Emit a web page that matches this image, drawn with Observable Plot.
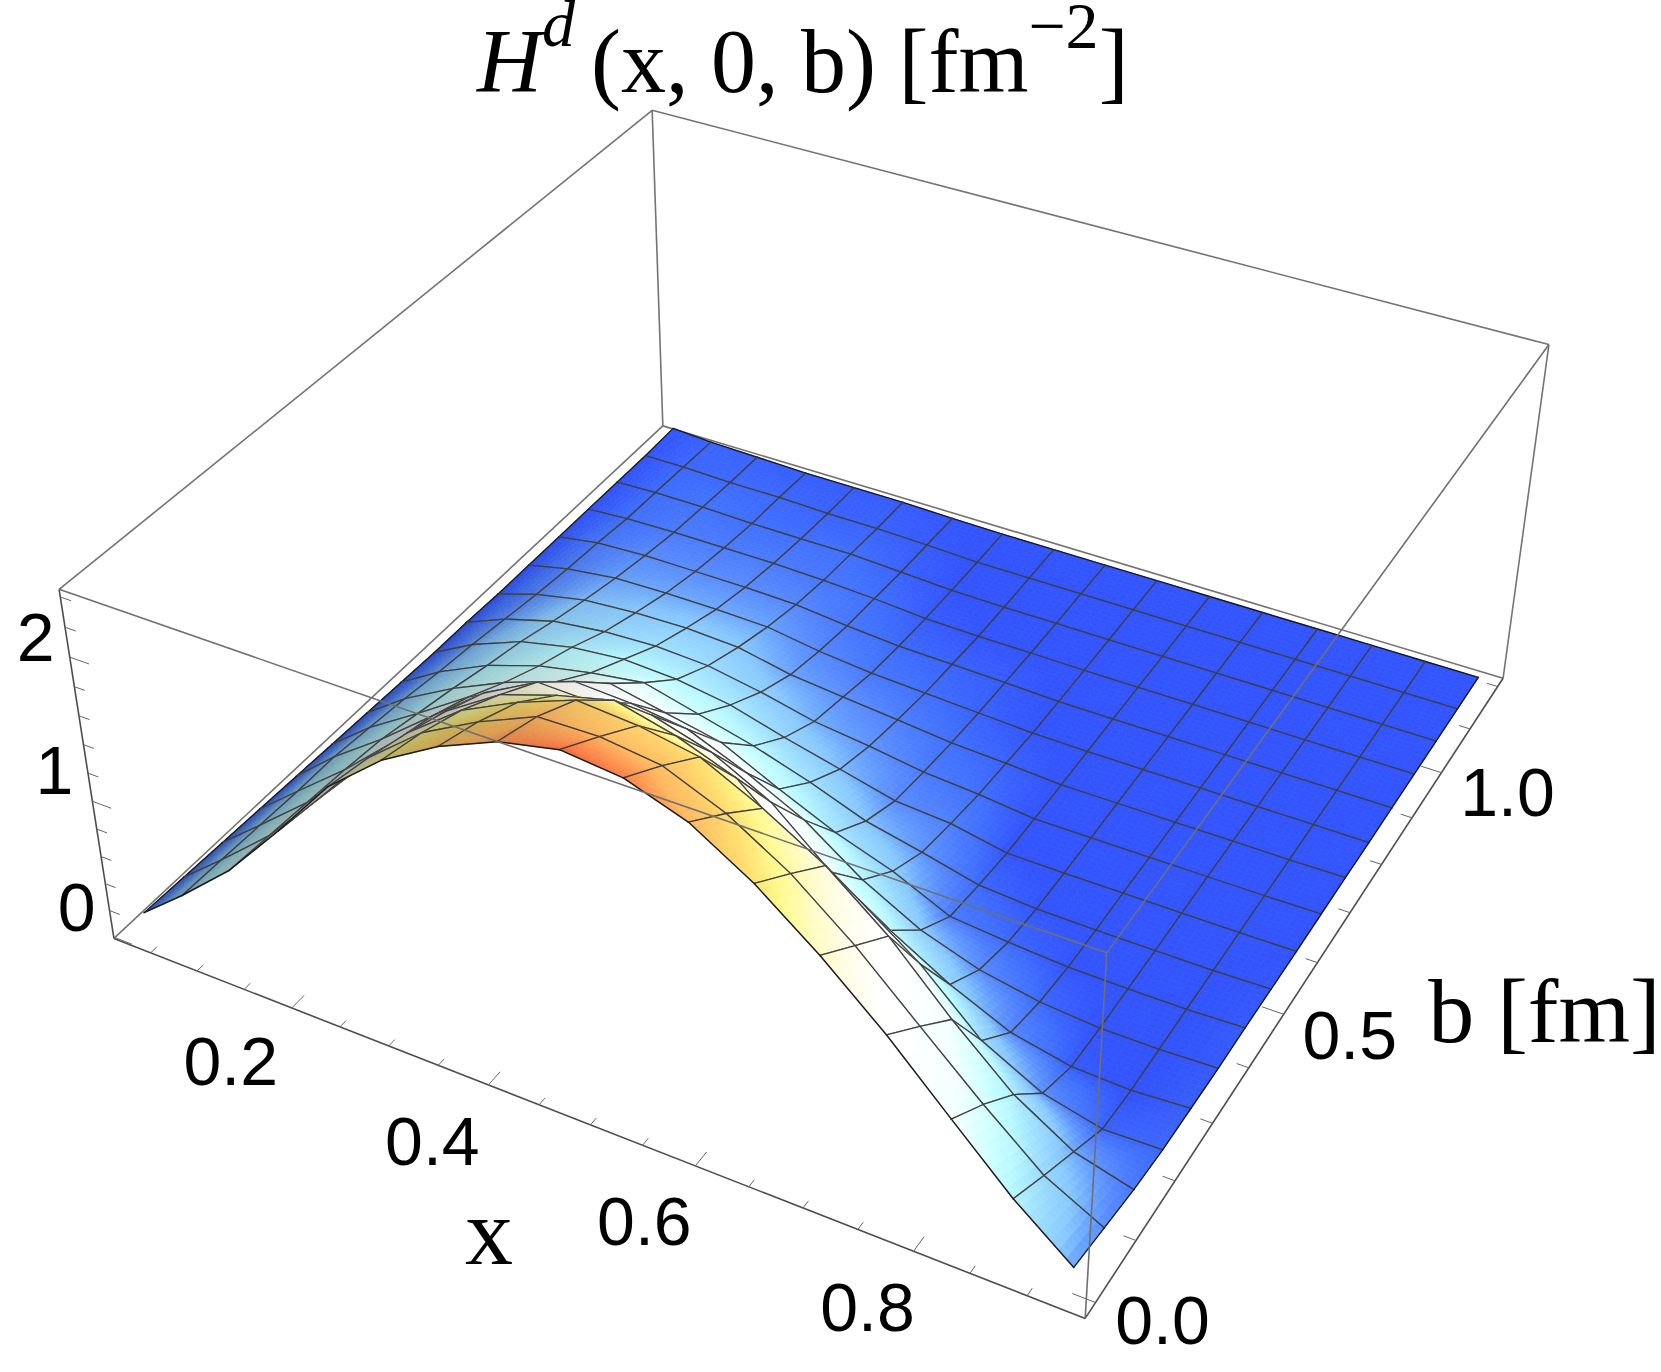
<!DOCTYPE html>
<html>
<head>
<meta charset="utf-8">
<script src="https://cdn.jsdelivr.net/npm/d3@7"></script>
<script src="https://cdn.jsdelivr.net/npm/@observablehq/plot@0.6"></script>
<style>
html,body{margin:0;padding:0;background:#fff;width:1661px;height:1372px;overflow:hidden}
#title{position:absolute;left:477px;top:8px;height:100px;font:90px/108px "Liberation Serif",serif;color:#000;white-space:nowrap;z-index:2}
#title sup{font-size:66px;line-height:0;vertical-align:baseline;position:relative;top:-44px}
#title sup.d{margin-right:16px;top:-46px}
#chart{position:absolute;left:0;top:100px}
</style>
</head>
<body>
<div id="title"><i>H</i><sup class="d"><i>d</i></sup>(x, 0, b) [fm<sup>−2</sup>]</div>
<div id="chart"></div>
<script>
// Grid of the surface
const xGrid = [0.032,0.078,0.134,0.192,0.249,0.306,0.363,0.420,0.478,0.535,0.592,0.649,0.706,0.764,0.821,0.876,0.930];
const bGrid = [0,0.075,0.15,0.225,0.3,0.375,0.45,0.525,0.6,0.675,0.75,0.825,0.9,0.975,1.05,1.125,1.2];

// H values along b, one list per x of the grid
const zX00 = [.15,.14,.13,.12,.11,.10,.09,.08,.07,.07,.06,.06,.06,.06,.06,.06,.07];
const zX01 = [.40,.39,.38,.37,.37,.34,.31,.27,.24,.20,.16,.13,.11,.08,.07,.06,.05];
const zX02 = [.73,.71,.69,.67,.64,.58,.52,.45,.39,.31,.24,.18,.13,.09,.07,.05,.04];
const zX03 = [1.16,1.12,1.07,1.02,.95,.84,.70,.58,.48,.36,.27,.19,.13,.09,.06,.05,.03];
const zX04 = [1.61,1.55,1.47,1.37,1.25,1.04,.84,.66,.52,.38,.28,.19,.13,.09,.06,.04,.03];
const zX05 = [1.93,1.86,1.76,1.62,1.46,1.22,.96,.72,.50,.36,.26,.18,.12,.08,.06,.04,.03];
const zX06 = [2.16,2.07,1.95,1.75,1.45,1.20,.88,.62,.44,.29,.18,.12,.08,.06,.04,.03,.02];
const zX07 = [2.33,2.24,2.10,1.85,1.50,1.15,.80,.52,.33,.20,.14,.08,.05,.03,.02,.015,.015];
const zX08 = [2.42,2.25,2.07,1.75,1.38,.98,.60,.39,.23,.15,.10,.06,.04,.02,.015,.015,.015];
const zX09 = [2.38,2.20,2.00,1.60,1.17,.78,.42,.24,.13,.09,.06,.04,.03,.02,.015,.015,.015];
const zX10 = [2.24,2.03,1.80,1.25,.82,.49,.28,.15,.10,.06,.04,.02,.015,.015,.015,.015,.015];
const zX11 = [1.99,1.78,1.56,1.05,.55,.27,.09,.05,.02,.015,.015,.015,.015,.015,.015,.015,.015];
const zX12 = [1.67,1.45,1.23,.75,.31,.13,.05,.02,.015,.015,.015,.015,.015,.015,.015,.015,.015];
const zX13 = [1.30,1.06,.81,.36,.12,.05,.02,.015,.015,.015,.015,.015,.015,.015,.015,.015,.015];
const zX14 = [.89,.68,.44,.14,.03,.015,.015,.015,.015,.015,.015,.015,.015,.015,.015,.015,.015];
const zX15 = [.50,.34,.19,.04,.015,.015,.015,.015,.015,.015,.015,.015,.015,.015,.015,.015,.015];
const zX16 = [.18,.13,.08,.05,.04,.03,.03,.025,.02,.02,.02,.015,.015,.015,.015,.015,.015];
const zGrid = [zX00,zX01,zX02,zX03,zX04,zX05,zX06,zX07,zX08,zX09,zX10,zX11,zX12,zX13,zX14,zX15,zX16];

// Colour function of H; the first two x columns read darker than their height gives
const colorStopsZ = [0.02,0.06,0.13,0.155,0.25,0.38,0.51,0.65,0.85,1.15,1.3,1.5,1.67,1.85,2.0,2.24,2.38,2.42];
const colorStops  = ["#3355ff","#4070ff","#5a8cff","#6098ff","#88c8ff","#a0e0ff","#b8f8ff","#d0ffff","#f3ffff","#ffffff","#ffffff","#fffde8","#fffcc8","#fffa90","#ffe070","#ffb860","#ff8048","#ff6838"];
const colorOf = d3.scaleLinear().domain(colorStopsZ).range(colorStops).interpolate(d3.interpolateRgb).clamp(true);
const colorWeight = [0.3,0.8];

// Axis ranges and ticks
const xRange = [0.01,0.95], bRange = [-0.025,1.22], zRange = [-0.01,2.45];
const xTicks = d3.range(0.05,0.951,0.05), xMajor = [0.2,0.4,0.6,0.8];
const bTicks = d3.range(0,1.21,0.1),  bMajor = [0,0.5,1];
const zTicks = d3.range(0,2.41,0.2), zMajor = [0,1,2];

const xLabels = [["0.2",-61,55],["0.4",-56,58],["0.6",-51,57],["0.8",-46,58]];
const bLabels = [["0.0",67,20],["0.5",66,23],["1.0",66,22]];
const zLabels = [["0",-37,-28],["1",-38,-29],["2",-34,-18]];

// Camera: pixel places of the eight corners of the box (x,b,z index 0/1)
const corners = [
  [0,0,0,113,938],[1,0,0,1085,1318],[1,1,0,1502,678],[0,1,0,663,425],
  [0,0,1,59,589],[1,0,1,1106,952],[1,1,1,1549,344],[0,1,1,651,110]
];
function solve(A,y){
  const n=y.length; A=A.map((r,i)=>[...r,y[i]]);
  for(let c=0;c<n;c++){
    let p=c; for(let r=c+1;r<n;r++) if(Math.abs(A[r][c])>Math.abs(A[p][c])) p=r;
    [A[c],A[p]]=[A[p],A[c]];
    for(let r=0;r<n;r++) if(r!==c){const f=A[r][c]/A[c][c]; for(let k=c;k<=n;k++) A[r][k]-=f*A[c][k];}
  }
  return A.map((r,i)=>r[n]/r[i]);
}
const M = (()=>{
  const rows=[],ys=[];
  for(const [u,v,w,px,py] of corners){
    rows.push([u,v,w,1,0,0,0,0,-px*u,-px*v,-px*w]); ys.push(px);
    rows.push([0,0,0,0,u,v,w,1,-py*u,-py*v,-py*w]); ys.push(py);
  }
  const AtA=d3.range(11).map(a=>d3.range(11).map(b=>d3.sum(rows,r=>r[a]*r[b])));
  const Aty=d3.range(11).map(a=>d3.sum(rows,(r,i)=>r[a]*ys[i]));
  return solve(AtA,Aty);
})();
function project(x,b,z){
  const u=(x-xRange[0])/(xRange[1]-xRange[0]), v=(b-bRange[0])/(bRange[1]-bRange[0]), w=(z-zRange[0])/(zRange[1]-zRange[0]);
  const d=M[8]*u+M[9]*v+M[10]*w+1;
  return [(M[0]*u+M[1]*v+M[2]*w+M[3])/d,(M[4]*u+M[5]*v+M[6]*w+M[7])/d];
}

// Slope towards +x at each grid node gives the shading of the left flank
const nx=xGrid.length, nb=bGrid.length;
const shade = d3.range(nx).map(i=>d3.range(nb).map(j=>{
  const a=Math.max(i-1,0), c=Math.min(i+1,nx-1);
  const s=(zGrid[c][j]-zGrid[a][j])/(xGrid[c]-xGrid[a]);
  return 1/(1+0.07*Math.max(s,0));
}));

// Painter's list, far cells first: filled patches then their mesh edges
const SUB=8;
const poly=[]; let id=0;
const lerp2=(f,i,j,s,t)=>(1-s)*(1-t)*f(i,j)+s*(1-t)*f(i+1,j)+(1-s)*t*f(i,j+1)+s*t*f(i+1,j+1);
const zAt=(i,j)=>zGrid[i][j], shAt=(i,j)=>shade[i][j], cAt=(i,j)=>zGrid[i][j]*(colorWeight[i]??1);
function vertex(i,j,s,t){
  const x=xGrid[i]+s*(xGrid[i+1]-xGrid[i]), b=bGrid[j]+t*(bGrid[j+1]-bGrid[j]);
  const z=lerp2(zAt,i,j,s,t);
  return {x,b,z,sh:lerp2(shAt,i,j,s,t),cz:lerp2(cAt,i,j,s,t)};
}
function pushPath(pts,fill,stroke,sw){
  const k=id++;
  for(const p of pts){const [px,py]=project(p.x,p.b,p.z); poly.push({k,px,py,fill,stroke,sw});}
}
for(let j=nb-2;j>=0;j--){
  for(let i=0;i<nx-1;i++){
    for(let q=SUB-1;q>=0;q--) for(let p=0;p<SUB;p++){
      const s0=p/SUB,s1=(p+1)/SUB,t0=q/SUB,t1=(q+1)/SUB;
      const v=[vertex(i,j,s0,t0),vertex(i,j,s1,t0),vertex(i,j,s1,t1),vertex(i,j,s0,t1)];
      const mz=d3.mean(v,d=>d.cz), ms=d3.mean(v,d=>d.sh);
      const c=d3.rgb(colorOf(mz));
      const col=d3.rgb(c.r*ms,c.g*ms,c.b*ms).formatHex();
      pushPath([...v,v[0]],col,col,0.7);
    }
    const p00=vertex(i,j,0,0),p10=vertex(i,j,1,0),p01=vertex(i,j,0,1),p11=vertex(i,j,1,1);
    const mesh="#3f3f3f", edge="#1a1a1a";
    pushPath([p01,p11],"none",j+1===nb-1?edge:mesh,j+1===nb-1?1.4:1.3);
    pushPath([p00,p01],"none",i===0?edge:mesh,i===0?1.3:1.3);
    pushPath([p10,p11],"none",i+1===nx-1?edge:mesh,i+1===nx-1?1.4:1.3);
    pushPath([p00,p10],"none",j===0?edge:mesh,j===0?1.5:1.3);
  }
}

// Box edges
const [x0,x1]=xRange,[b0,b1]=bRange,[z0,z1]=zRange;
const boxLine=(a,c)=>({p:project(...a),q:project(...c)});
const backEdges=[
  boxLine([x0,b0,z1],[x0,b1,z1]),boxLine([x0,b1,z1],[x1,b1,z1]),boxLine([x1,b1,z1],[x1,b1,z0]),
  boxLine([x0,b1,z1],[x0,b1,z0]),boxLine([x0,b0,z0],[x0,b1,z0]),boxLine([x0,b1,z0],[x1,b1,z0])
];
const axisEdges=[
  boxLine([x0,b0,z0],[x1,b0,z0]),boxLine([x1,b0,z0],[x1,b1,z0]),boxLine([x0,b0,z0],[x0,b0,z1])
];
const frontEdges=[
  boxLine([x0,b0,z1],[x1,b0,z1]),boxLine([x1,b0,z1],[x1,b1,z1]),boxLine([x1,b0,z1],[x1,b0,z0])
];
const near=(v,list)=>list.some(m=>Math.abs(m-v)<1e-6);
const tickLines=[
  ...xTicks.map(v=>boxLine([v,b0,z0],[v,b0+(near(v,xMajor)?0.024:0.012),z0])),
  ...bTicks.map(v=>boxLine([x1,v,z0],[x1-(near(v,bMajor)?0.02:0.011),v,z0])),
  ...zTicks.map(v=>boxLine([x0,b0,v],[x0+(near(v,zMajor)?0.02:0.011),b0,v]))
];
const link=(data,stroke,w)=>Plot.link(data,{x1:d=>d.p[0],y1:d=>d.p[1],x2:d=>d.q[0],y2:d=>d.q[1],stroke,strokeWidth:w});

// Tick labels hang off the axis ticks
const labelData=[
  ...xLabels.map(([t,dx,dy])=>{const [a,c]=project(+t,b0,z0);return {t,a:a+dx,c:c+dy};}),
  ...bLabels.map(([t,dx,dy])=>{const [a,c]=project(x1,+t,z0);return {t,a:a+dx,c:c+dy};}),
  ...zLabels.map(([t,dx,dy])=>{const [a,c]=project(x0,b0,+t);return {t,a:a+dx,c:c+dy};})
];
const [lxA,lxC]=project(0.47,-0.19,z0);
const [lbA,lbC]=project(x1,0.43,z0);

const chart=Plot.plot({
  width:1661,height:1272,margin:0,
  style:{background:"transparent"},
  x:{domain:[0,1661],range:[0,1661],axis:null},
  y:{domain:[100,1372],range:[0,1272],axis:null},
  color:{type:"identity"},
  marks:[
    link(backEdges,"#737373",1.6),
    link(axisEdges,"#4d4d4d",1.6),
    link(tickLines,"#666666",1),
    Plot.line(poly,{x:"px",y:"py",z:"k",fill:"fill",stroke:"stroke",strokeWidth:"sw",strokeLinejoin:"round",curve:"linear"}),
    link(frontEdges,"#707070",1.6),
    Plot.text(labelData,{x:"a",y:"c",text:"t",fontFamily:"Liberation Sans",fontSize:68,fill:"#000"}),
    Plot.text(["x"],{x:()=>lxA+12,y:()=>lxC+25,text:d=>d,fontFamily:"Liberation Serif",fontSize:96,fill:"#000"}),
    Plot.text(["b [fm]"],{x:()=>lbA+285,y:()=>lbC-39,text:d=>d,fontFamily:"Liberation Serif",fontSize:92,fill:"#000"})
  ]
});
document.getElementById("chart").appendChild(chart);
</script>
</body>
</html>
